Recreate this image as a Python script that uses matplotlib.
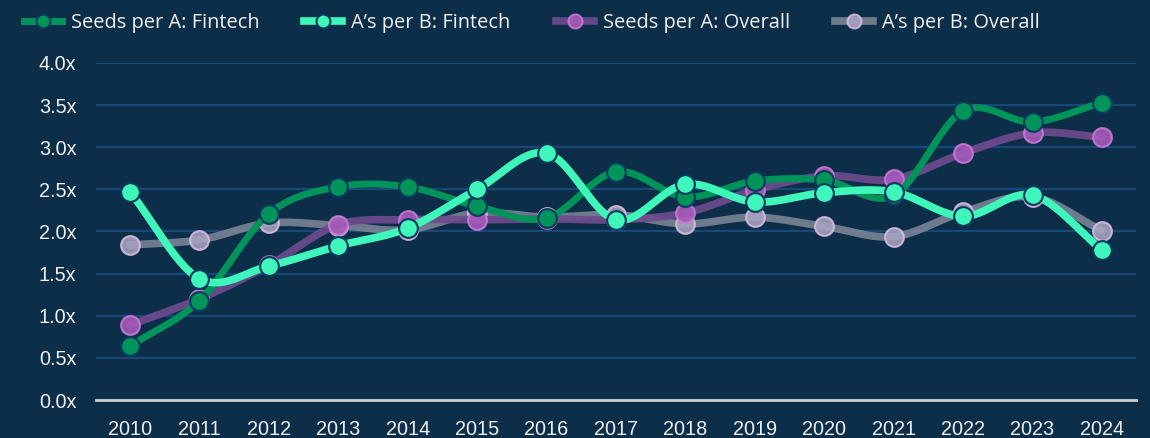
import numpy as np
import matplotlib
matplotlib.use("Agg")
import matplotlib.pyplot as plt
from matplotlib.lines import Line2D

years = [2010, 2011, 2012, 2013, 2014, 2015, 2016, 2017, 2018, 2019, 2020, 2021, 2022, 2023, 2024]
seeds_fintech = [0.64, 1.18, 2.21, 2.53, 2.53, 2.30, 2.16, 2.71, 2.41, 2.60, 2.61, 2.43, 3.43, 3.30, 3.53]
as_fintech = [2.47, 1.44, 1.59, 1.83, 2.04, 2.50, 2.93, 2.14, 2.56, 2.35, 2.46, 2.47, 2.18, 2.43, 1.78]
seeds_overall = [0.89, 1.20, 1.60, 2.08, 2.14, 2.14, 2.15, 2.14, 2.22, 2.49, 2.66, 2.62, 2.93, 3.17, 3.12]
as_overall = [1.84, 1.90, 2.10, 2.07, 2.02, 2.22, 2.17, 2.20, 2.09, 2.17, 2.06, 1.94, 2.23, 2.41, 2.01]
yticks = [0.0, 0.5, 1.0, 1.5, 2.0, 2.5, 3.0, 3.5, 4.0]
labels = ["Seeds per A: Fintech", "A\u2019s per B: Fintech", "Seeds per A: Overall", "A\u2019s per B: Overall"]

BG = "#0c2e48"


def smooth(x, y, n=30, tension=0.5):
    x = np.asarray(x, float)
    y = np.asarray(y, float)
    px = np.concatenate([[2 * x[0] - x[1]], x, [2 * x[-1] - x[-2]]])
    py = np.concatenate([[2 * y[0] - y[1]], y, [2 * y[-1] - y[-2]]])
    xs, ys = [], []
    t = np.linspace(0, 1, n)
    for i in range(1, len(px) - 2):
        p0, p1, p2, p3 = py[i - 1], py[i], py[i + 1], py[i + 2]
        m1 = tension * (p2 - p0)
        m2 = tension * (p3 - p1)
        h00 = 2 * t**3 - 3 * t**2 + 1
        h10 = t**3 - 2 * t**2 + t
        h01 = -2 * t**3 + 3 * t**2
        h11 = t**3 - t**2
        ys.append(h00 * p1 + h10 * m1 + h01 * p2 + h11 * m2)
        xs.append(px[i] + t * (px[i + 1] - px[i]))
    return np.concatenate(xs), np.concatenate(ys)


fig = plt.figure(figsize=(11.5, 4.38), dpi=100, facecolor=BG)
ax = fig.add_axes([96 / 1150, 1 - 400 / 438, (1136 - 96) / 1150, (400 - 63) / 438])
ax.set_facecolor(BG)

series = [
    (as_overall, "#7d8699", "#a8a3bf", "#d9bde3", 0.88, 2),
    (seeds_overall, "#6f4b8f", "#a65ab8", "#c77ad6", 0.9, 3),
    (seeds_fintech, "#00935a", "#00935a", "#0b3a5e", 1.0, 4),
    (as_fintech, "#40f7bb", "#40f7bb", "#0b3a5e", 1.0, 5),
]
lws = [5.5, 5.5, 5.0, 5.5]
for (vals, lc, mfc, mec, a, z), lw in zip(series, lws):
    sx, sy = smooth(years, vals)
    ax.plot(sx, sy, color=lc, lw=lw, alpha=a, zorder=z, solid_capstyle="round", clip_on=False)
    ax.plot(years, vals, ls="none", marker="o", ms=13.5, mfc=mfc, mec=mec, mew=1.5,
            alpha=a, zorder=z + 0.1, clip_on=False)

ax.set_xlim(2009.51, 2024.49)
ax.set_ylim(0, 4.0)
ax.set_yticks(yticks)
ax.set_yticklabels([f"{v:.1f}x" for v in yticks])
ax.set_xticks(years)
ax.set_xticklabels([str(y) for y in years])
ax.grid(axis="y", color="#17487a", lw=1.6, zorder=0)
ax.set_axisbelow(True)
for s in ["top", "right", "left"]:
    ax.spines[s].set_visible(False)
ax.spines["bottom"].set_color("#cfcfcf")
ax.spines["bottom"].set_linewidth(2)
ax.spines["bottom"].set_zorder(1)
ax.tick_params(axis="both", length=0, colors="#f0f0f0", labelsize=14.3)
ax.tick_params(axis="y", pad=14)
ax.tick_params(axis="x", pad=14.5)
for lab in ax.get_xticklabels() + ax.get_yticklabels():
    lab.set_fontfamily("Liberation Sans")

handles = []
for (vals, lc, mfc, mec, a, z), lw in zip([series[2], series[3], series[1], series[0]], [5, 5.5, 5.5, 5.5]):
    handles.append(Line2D([0], [0], color=lc, lw=lw, alpha=a, marker="o", ms=10,
                          mfc=mfc, mec=mec, mew=1.5))
leg = fig.legend(handles, labels, loc="upper left", bbox_to_anchor=(0.005, 1.012), ncol=4,
                 frameon=False, handlelength=1.9, columnspacing=2.25, handletextpad=0.45,
                 prop={"family": "Open Sans", "size": 14.4})
for t in leg.get_texts():
    t.set_color("#f2f2f2")

fig.savefig("out.png", dpi=100, facecolor=BG)
